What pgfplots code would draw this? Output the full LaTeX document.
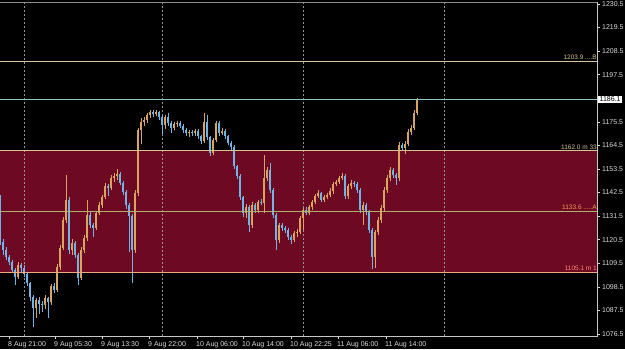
\documentclass[border=0pt]{standalone}
\usepackage{pgfplots}
\usepackage{pgfplotstable}
\pgfplotsset{compat=1.18}
\usepackage{fontspec}
\setmainfont{Liberation Sans}
\definecolor{zone}{RGB}{110,9,36}
\definecolor{bullc}{RGB}{215,165,95}
\definecolor{bearc}{RGB}{115,180,230}
\definecolor{lnB}{RGB}{215,195,160}
\definecolor{lnP}{RGB}{140,200,200}
\definecolor{lnM}{RGB}{215,195,150}
\definecolor{lnA}{RGB}{175,175,110}
\definecolor{lnL}{RGB}{235,170,130}
\definecolor{txA}{RGB}{240,160,90}
\definecolor{txL}{RGB}{255,140,110}
\definecolor{txt}{RGB}{220,220,220}
\definecolor{sep}{RGB}{150,150,150}
\definecolor{frT}{RGB}{140,140,140}
\definecolor{frR}{RGB}{200,200,200}

\pgfplotstableread{
x o h l c
0 1139.1 1141.4 1118.1 1119.5
3 1119.5 1121.0 1113.5 1115.7
6 1115.7 1117.0 1111.0 1112.5
9 1112.5 1113.5 1108.5 1110.1
12 1110.1 1111.0 1105.0 1106.4
15 1106.4 1107.5 1099.4 1103.1
21 1108.7 1109.5 1105.5 1107.3
24 1107.3 1108.5 1103.0 1104.5
27 1104.5 1105.5 1099.0 1100.3
30 1100.3 1101.0 1092.0 1093.8
33 1093.8 1094.5 1079.8 1088.7
39 1092.4 1094.0 1086.0 1090.5
42 1090.5 1092.0 1087.0 1090.1
48 1093.3 1094.0 1084.0 1091.5
54 1098.9 1100.5 1095.5 1097.1
69 1139.1 1140.5 1114.0 1115.7
75 1119.0 1120.0 1112.0 1113.4
78 1113.4 1114.5 1099.4 1102.7
90 1132.1 1133.5 1126.0 1127.4
93 1127.4 1128.5 1122.0 1126.0
108 1145.6 1146.5 1141.0 1144.7
120 1151.2 1152.0 1146.0 1147.0
123 1147.0 1148.0 1141.5 1142.8
126 1142.8 1143.5 1135.0 1136.7
129 1136.7 1137.5 1114.8 1131.6
132 1131.6 1132.5 1100.3 1115.7
153 1180.1 1180.8 1177.8 1179.2
159 1180.1 1180.5 1176.5 1177.8
162 1177.8 1178.5 1170.0 1174.1
168 1177.8 1179.5 1173.5 1175.0
171 1175.0 1176.0 1170.5 1172.7
180 1175.0 1176.0 1172.5 1173.6
183 1173.6 1174.5 1170.5 1171.7
186 1171.7 1172.5 1169.0 1170.3
192 1170.8 1171.8 1169.0 1170.3
198 1171.2 1172.0 1167.5 1168.9
201 1168.9 1169.5 1165.0 1166.6
207 1175.5 1178.7 1167.0 1168.5
210 1168.5 1169.0 1159.5 1161.0
219 1175.0 1176.0 1169.0 1170.3
225 1171.2 1172.0 1167.5 1168.9
228 1168.9 1169.5 1164.5 1165.7
231 1165.7 1166.5 1162.5 1163.8
234 1163.8 1164.5 1153.5 1154.9
237 1154.9 1155.5 1149.0 1150.3
240 1150.3 1151.0 1139.0 1140.5
243 1140.5 1141.0 1131.0 1133.0
249 1135.8 1136.5 1124.1 1127.4
255 1136.7 1137.5 1133.0 1134.4
261 1138.1 1139.5 1136.5 1137.5
270 1153.1 1156.3 1142.5 1143.7
273 1143.7 1144.5 1130.5 1132.1
276 1132.1 1133.0 1115.7 1120.4
282 1127.4 1128.5 1124.5 1126.0
285 1126.0 1126.8 1123.5 1125.1
288 1125.1 1126.0 1120.5 1121.8
291 1121.8 1122.5 1118.5 1120.4
306 1134.4 1136.0 1132.0 1133.0
321 1142.3 1143.0 1138.0 1139.1
345 1150.3 1151.0 1139.5 1140.9
354 1147.0 1148.0 1145.0 1146.5
357 1146.5 1147.5 1142.5 1143.7
360 1143.7 1144.5 1133.0 1134.4
366 1136.7 1137.5 1132.0 1133.5
369 1133.5 1134.5 1123.5 1125.1
372 1125.1 1126.0 1107.0 1112.5
393 1153.1 1154.0 1149.5 1150.7
396 1150.7 1151.5 1146.0 1149.3
402 1164.7 1165.7 1162.0 1163.3
}\downtab

\pgfplotstableread{
x o h l c
18 1103.1 1110.0 1102.0 1108.7
36 1088.7 1093.5 1084.0 1092.4
45 1090.1 1094.5 1088.0 1093.3
51 1091.5 1100.0 1090.0 1098.9
57 1097.1 1109.0 1096.0 1107.8
60 1107.8 1118.0 1106.5 1116.7
63 1116.7 1131.0 1115.5 1129.7
66 1129.7 1150.7 1128.5 1139.1
72 1115.7 1121.0 1113.5 1119.0
81 1102.7 1117.0 1101.5 1115.7
84 1115.7 1122.5 1114.5 1121.3
87 1121.3 1139.1 1120.0 1132.1
96 1126.0 1134.0 1125.0 1133.0
99 1133.0 1138.0 1132.0 1136.7
102 1136.7 1141.5 1135.5 1140.5
105 1140.5 1147.0 1139.5 1145.6
111 1144.7 1150.5 1143.5 1149.3
114 1149.3 1151.5 1147.5 1150.3
117 1150.3 1153.5 1148.5 1151.2
135 1115.7 1143.5 1114.5 1142.3
138 1142.3 1172.7 1141.0 1171.7
141 1171.7 1177.3 1165.0 1175.5
144 1175.5 1177.8 1173.5 1176.4
147 1176.4 1179.7 1175.0 1178.7
150 1178.7 1181.1 1177.5 1180.1
156 1179.2 1180.8 1178.0 1180.1
165 1174.1 1178.7 1172.0 1177.8
174 1172.7 1175.5 1171.5 1174.5
177 1174.5 1176.0 1173.0 1175.0
189 1170.3 1171.8 1168.5 1170.8
195 1170.3 1172.0 1169.0 1171.2
204 1166.6 1179.7 1165.7 1175.5
213 1161.0 1168.0 1160.0 1167.1
216 1167.1 1176.0 1166.0 1175.0
222 1170.3 1172.5 1169.5 1171.2
246 1133.0 1137.0 1130.5 1135.8
252 1127.4 1138.0 1126.0 1136.7
258 1134.4 1139.0 1133.0 1138.1
264 1137.5 1160.1 1133.0 1149.3
267 1149.3 1154.5 1148.0 1153.1
279 1120.4 1128.5 1119.0 1127.4
294 1120.4 1124.5 1119.5 1123.7
297 1123.7 1125.5 1122.0 1124.1
300 1124.1 1131.5 1123.0 1130.7
303 1130.7 1135.5 1125.0 1134.4
309 1133.0 1136.5 1132.0 1135.8
312 1135.8 1139.0 1134.5 1138.1
315 1138.1 1142.0 1137.0 1140.9
318 1140.9 1143.5 1140.0 1142.3
324 1139.1 1141.5 1138.0 1140.5
327 1140.5 1142.5 1139.5 1141.4
330 1141.4 1144.5 1140.5 1143.3
333 1143.3 1147.5 1142.0 1146.5
336 1146.5 1148.5 1145.5 1147.5
339 1147.5 1150.3 1146.5 1149.3
342 1149.3 1151.5 1148.5 1150.3
348 1140.9 1146.5 1139.5 1145.6
351 1145.6 1148.5 1144.0 1147.0
363 1134.4 1138.0 1127.4 1136.7
375 1112.5 1125.0 1107.5 1124.1
378 1124.1 1131.0 1122.5 1129.7
381 1129.7 1136.5 1128.5 1135.3
384 1135.3 1145.0 1134.0 1143.7
387 1143.7 1150.5 1142.5 1149.3
390 1149.3 1154.5 1148.0 1153.1
399 1149.3 1166.0 1148.0 1164.7
405 1163.3 1166.5 1160.5 1165.2
408 1165.2 1172.0 1164.0 1170.8
411 1170.8 1174.0 1169.5 1172.7
414 1172.7 1181.0 1171.5 1179.7
417 1179.7 1186.7 1178.5 1186.1
}\uptab

\begin{document}
\begin{tikzpicture}
\fill[black] (0pt,0pt) rectangle (625pt,349pt);
\useasboundingbox (0pt,0pt) rectangle (625pt,349pt);
\begin{axis}[
  name=ax,
  at={(0pt,13pt)}, anchor=south west,
  scale only axis, width=597pt, height=334pt,
  xmin=0, xmax=597, ymin=1075.6, ymax=1231.4,
  axis line style={draw=none},
  clip=true,
  tick align=outside,
  major tick length=3pt,
  tick style={draw=txt, line width=0.6pt},
  xtick pos=bottom, ytick pos=right,
  yticklabel pos=right,
  xtick={9,55,102,149,197,243,291,338,386},
  xticklabels={8 Aug 21:00,9 Aug 05:30,9 Aug 13:30,9 Aug 22:00,10 Aug 06:00,10 Aug 14:00,10 Aug 22:25,11 Aug 06:00,11 Aug 14:00},
  ytick={1076.5,1087.5,1098.5,1109.5,1120.5,1131.5,1142.5,1153.5,1164.5,1175.5,1197.5,1208.5,1219.5,1230.5},
  yticklabels={1076.5,1087.5,1098.5,1109.5,1120.5,1131.5,1142.5,1153.5,1164.5,1175.5,1197.5,1208.5,1219.5,1230.5},
  xticklabel style={font=\fontsize{7}{8}\selectfont, text=txt, anchor=north west, inner sep=0pt, xshift=-1pt, yshift=-2.5pt},
  yticklabel style={font=\fontsize{7}{8}\selectfont, text=txt, anchor=west, inner sep=0pt, xshift=2pt},
  candle/.style={draw=none, mark=none, forget plot,
    error bars/.cd, y dir=plus, y explicit, error mark=none},
]
% zone
\addplot[fill=zone, draw=none] coordinates {(0,1105.1) (597,1105.1) (597,1162.0) (0,1162.0)} -- cycle;
% day separators
\addplot[sep, line width=0.8pt, dash pattern=on 2pt off 2pt] coordinates {(24,1075.6) (24,1231.4)};
\addplot[sep, line width=0.8pt, dash pattern=on 2pt off 2pt] coordinates {(162,1075.6) (162,1231.4)};
\addplot[sep, line width=0.8pt, dash pattern=on 2pt off 2pt] coordinates {(303,1075.6) (303,1231.4)};
\addplot[sep, line width=0.8pt, dash pattern=on 2pt off 2pt] coordinates {(444,1075.6) (444,1231.4)};
% wicks
\addplot[candle, error bar style={draw=bearc, line width=0.8pt, solid}]
  table[x=x, y=l, y error plus expr=\thisrow{h}-\thisrow{l}] {\downtab};
\addplot[candle, error bar style={draw=bullc, line width=0.8pt, solid}]
  table[x=x, y=l, y error plus expr=\thisrow{h}-\thisrow{l}] {\uptab};
% bodies
\addplot[candle, error bar style={draw=bearc, line width=2.2pt, solid}]
  table[x=x, y=c, y error plus expr=\thisrow{o}-\thisrow{c}] {\downtab};
\addplot[candle, error bar style={draw=bullc, line width=2.2pt, solid}]
  table[x=x, y=o, y error plus expr=\thisrow{c}-\thisrow{o}] {\uptab};
% horizontal levels
\addplot[lnB, line width=0.8pt] coordinates {(0,1203.9) (597,1203.9)};
\addplot[lnP, line width=0.8pt] coordinates {(0,1186.1) (597,1186.1)};
\addplot[lnM, line width=0.8pt] coordinates {(0,1162.0) (597,1162.0)};
\addplot[lnA, line width=0.8pt] coordinates {(0,1133.6) (597,1133.6)};
\addplot[lnL, line width=0.8pt] coordinates {(0,1105.1) (597,1105.1)};
\coordinate (pB) at (axis cs:597,1203.9);
\coordinate (pM) at (axis cs:597,1162.0);
\coordinate (pA) at (axis cs:597,1133.6);
\coordinate (pL) at (axis cs:597,1105.1);
\coordinate (pP) at (axis cs:597,1186.1);
\end{axis}
\begin{scope}[every node/.style={font=\fontsize{6.5}{7}\selectfont, anchor=south east, inner sep=0pt, yshift=1.5pt}]
\node[text=lnB] at (pB) {1203.9 ....B};
\node[text=lnM] at (pM) {1162.0 m 33};
\node[text=txA] at (pA) {1133.6 .....A};
\node[text=txL] at (pL) {1105.1 m 1};
\end{scope}
\draw[frT, line width=0.8pt] (ax.north west) -- (ax.north east);
\draw[frR, line width=0.8pt] (ax.north east) -- (ax.south east) -- (ax.south west);
\node[fill=white, text=black, anchor=west, inner xsep=1.5pt, inner ysep=1pt, font=\fontsize{7}{8}\selectfont] at ([xshift=1pt]pP) {1186.1};
\end{tikzpicture}
\end{document}
